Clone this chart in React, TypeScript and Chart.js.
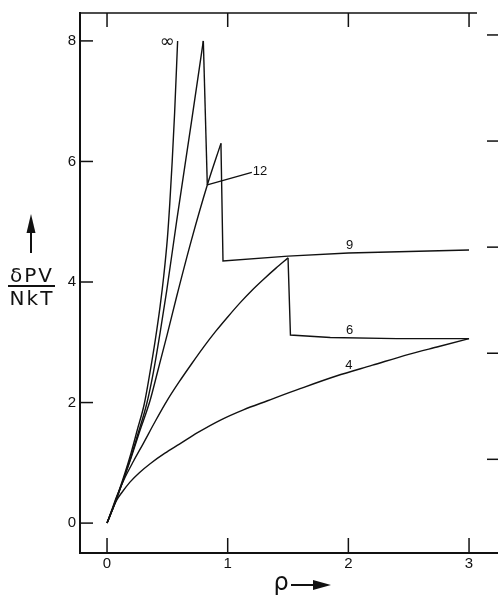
import React, { useEffect, useRef } from "react";
import { Chart, registerables } from "chart.js";

Chart.register(...registerables);

// ---- axis ticks ----
const xTickValues = [0, 1, 2, 3];
const yTickValues = [0, 2, 4, 6, 8];
const rightTickValues = [0, 1, 2, 3, 4];

// ---- curve n = infinity ----
const xInf = [0, 0.05, 0.1, 0.15, 0.2, 0.25, 0.309, 0.356, 0.4, 0.44, 0.47, 0.5, 0.52, 0.54, 0.56, 0.585];
const yInf = [0, 0.26, 0.54, 0.84, 1.17, 1.54, 1.98, 2.5, 3.04, 3.6, 4.1, 4.72, 5.3, 6.0, 6.8, 8.0];

// ---- curve n = 12 ----
const x12Rise = [0, 0.05, 0.1, 0.15, 0.2, 0.25, 0.329, 0.384, 0.44, 0.494, 0.577, 0.7, 0.798];
const y12Rise = [0, 0.25, 0.52, 0.81, 1.11, 1.44, 1.98, 2.5, 3.16, 3.85, 5.01, 6.66, 8.0];
const x12Drop = [0.798, 0.831];
const y12Drop = [8.0, 5.61];

// ---- curve n = 9 ----
const x9Rise = [0, 0.05, 0.1, 0.15, 0.2, 0.27, 0.356, 0.42, 0.5, 0.577, 0.7, 0.831, 0.944];
const y9Rise = [0, 0.25, 0.52, 0.8, 1.09, 1.52, 2.03, 2.52, 3.14, 3.76, 4.7, 5.61, 6.3];
const x9Tail = [0.944, 0.961, 1.5, 2.0, 3.0];
const y9Tail = [6.3, 4.35, 4.43, 4.48, 4.53];

// ---- curve n = 6 ----
const x6Rise = [0, 0.04, 0.08, 0.14, 0.22, 0.3, 0.4, 0.5, 0.6, 0.7, 0.8, 0.9, 1.0, 1.1, 1.2, 1.3, 1.4, 1.5];
const y6Rise = [0, 0.22, 0.44, 0.72, 1.03, 1.32, 1.69, 2.04, 2.35, 2.64, 2.92, 3.18, 3.42, 3.65, 3.86, 4.05, 4.23, 4.4];
const x6Tail = [1.5, 1.52, 1.85, 2.4, 3.0];
const y6Tail = [4.4, 3.12, 3.08, 3.06, 3.06];

// ---- curve n = 4 ----
const x4 = [0, 0.04, 0.08, 0.12, 0.19, 0.27, 0.36, 0.48, 0.6, 0.75, 0.94, 1.13, 1.33, 1.6, 1.9, 2.2, 2.5, 2.75, 3.0];
const y4 = [0, 0.2, 0.38, 0.5, 0.68, 0.84, 0.99, 1.16, 1.31, 1.5, 1.71, 1.88, 2.03, 2.23, 2.44, 2.62, 2.8, 2.93, 3.06];

// ---- curve labels (data coordinates) ----
const labelTexts = ["\u221E", "12", "9", "6", "4"];
const labelX = [0.5, 1.268, 2.01, 2.01, 2.005];
const labelY = [7.98, 5.83, 4.6, 3.19, 2.62];
const leader12X = [0.831, 1.2];
const leader12Y = [5.61, 5.82];

const toPts = (xs: number[], ys: number[]) => xs.map((x, i) => ({ x, y: ys[i] }));

const INK = "#111";

const framePlugin = {
  id: "frameAndText",
  afterDraw(chart: any) {
    const ctx = chart.ctx as CanvasRenderingContext2D;
    const { left, right, top, bottom } = chart.chartArea;
    const sx = chart.scales.x;
    const sy = chart.scales.y;
    const sy1 = chart.scales.y1;
    const line = (x1: number, y1: number, x2: number, y2: number) => {
      ctx.beginPath();
      ctx.moveTo(x1, y1);
      ctx.lineTo(x2, y2);
      ctx.stroke();
    };
    ctx.save();
    ctx.strokeStyle = INK;
    ctx.fillStyle = INK;
    ctx.lineCap = "butt";

    // frame
    ctx.lineWidth = 2;
    line(left, top - 1, left, bottom + 1);
    line(left, bottom, right, bottom);
    ctx.lineWidth = 1.5;
    line(left, top, sx.getPixelForValue(3) + 8, top);

    // inward ticks
    ctx.lineWidth = 1.5;
    yTickValues.forEach((v) => {
      const y = sy.getPixelForValue(v);
      line(left, y, left + 13, y);
    });
    rightTickValues.forEach((v) => {
      const y = sy1.getPixelForValue(v);
      line(right - 11, y, right, y);
    });
    xTickValues.forEach((v) => {
      const x = sx.getPixelForValue(v);
      line(x, bottom, x, bottom - 15);
      line(x, top, x, top + 14);
    });

    // leader for "12"
    ctx.lineWidth = 1.3;
    line(
      sx.getPixelForValue(leader12X[0]),
      sy.getPixelForValue(leader12Y[0]),
      sx.getPixelForValue(leader12X[1]),
      sy.getPixelForValue(leader12Y[1])
    );

    // curve labels
    ctx.textAlign = "center";
    ctx.textBaseline = "middle";
    labelTexts.forEach((t, i) => {
      ctx.font = t === "\u221E" ? "18px 'DejaVu Sans'" : "13px 'Liberation Sans'";
      ctx.fillText(t, sx.getPixelForValue(labelX[i]), sy.getPixelForValue(labelY[i]));
    });

    // x axis title: rho with arrow
    ctx.textAlign = "center";
    ctx.textBaseline = "alphabetic";
    ctx.font = "24px 'DejaVu Sans'";
    ctx.fillText("\u03C1", 281, 590);
    ctx.lineWidth = 2;
    line(291, 585, 316, 585);
    ctx.beginPath();
    ctx.moveTo(331, 585);
    ctx.lineTo(313, 580);
    ctx.lineTo(313, 590);
    ctx.closePath();
    ctx.fill();

    // y axis title: arrow + fraction
    ctx.lineWidth = 2;
    line(31, 253, 31, 230);
    ctx.beginPath();
    ctx.moveTo(31, 214);
    ctx.lineTo(26.5, 233);
    ctx.lineTo(35.5, 233);
    ctx.closePath();
    ctx.fill();
    ctx.font = "20px 'DejaVu Sans'";
    (ctx as any).letterSpacing = "2px";
    ctx.textAlign = "center";
    ctx.fillText("\u03B4PV", 32, 282);
    ctx.fillText("NkT", 32, 305);
    (ctx as any).letterSpacing = "0px";
    ctx.lineWidth = 2;
    line(8, 286, 55, 286);

    ctx.restore();
  },
};

export default function App() {
  const ref = useRef<HTMLCanvasElement | null>(null);

  useEffect(() => {
    if (!ref.current) return;
    const mk = (xs: number[], ys: number[], smooth: boolean) => ({
      data: toPts(xs, ys),
      borderColor: INK,
      borderWidth: 1.4,
      pointRadius: 0,
      fill: false,
      tension: 0,
      cubicInterpolationMode: smooth ? ("monotone" as const) : ("default" as const),
    });
    const chart = new Chart(ref.current, {
      type: "line",
      data: {
        datasets: [
          mk(xInf, yInf, true),
          mk(x12Rise, y12Rise, true),
          mk(x12Drop, y12Drop, false),
          mk(x9Rise, y9Rise, true),
          mk(x9Tail, y9Tail, false),
          mk(x6Rise, y6Rise, true),
          mk(x6Tail, y6Tail, false),
          mk(x4, y4, true),
        ] as any,
      },
      options: {
        responsive: false,
        maintainAspectRatio: false,
        animation: false,
        devicePixelRatio: 1,
        layout: { padding: { top: 11, right: 0, left: 0, bottom: 0 } },
        plugins: { legend: { display: false }, tooltip: { enabled: false } },
        scales: {
          x: {
            type: "linear",
            position: "bottom",
            min: -0.224,
            max: 3.24,
            grid: { display: false, drawTicks: false },
            border: { display: false },
            ticks: {
              color: INK,
              font: { family: "'Liberation Sans'", size: 15 },
              padding: 2,
              maxRotation: 0,
            },
            afterBuildTicks: (s: any) => {
              s.ticks = xTickValues.map((v) => ({ value: v }));
            },
            afterFit: (s: any) => {
              s.height = 42;
            },
          },
          y: {
            type: "linear",
            position: "left",
            min: -0.496,
            max: 8.463,
            grid: { display: false, drawTicks: false },
            border: { display: false },
            ticks: {
              color: INK,
              font: { family: "'Liberation Sans'", size: 15 },
              padding: 4,
            },
            afterBuildTicks: (s: any) => {
              s.ticks = yTickValues.map((v) => ({ value: v }));
            },
            afterFit: (s: any) => {
              s.width = 80;
            },
          },
          y1: {
            type: "linear",
            position: "right",
            display: false,
            min: -0.883,
            max: 4.207,
          },
        },
      } as any,
      plugins: [framePlugin],
    });
    return () => chart.destroy();
  }, []);

  return (
    <div style={{ position: "absolute", left: 0, top: 0, width: 498, height: 595, background: "#fff" }}>
      <canvas ref={ref} width={498} height={595} style={{ display: "block" }} />
    </div>
  );
}
